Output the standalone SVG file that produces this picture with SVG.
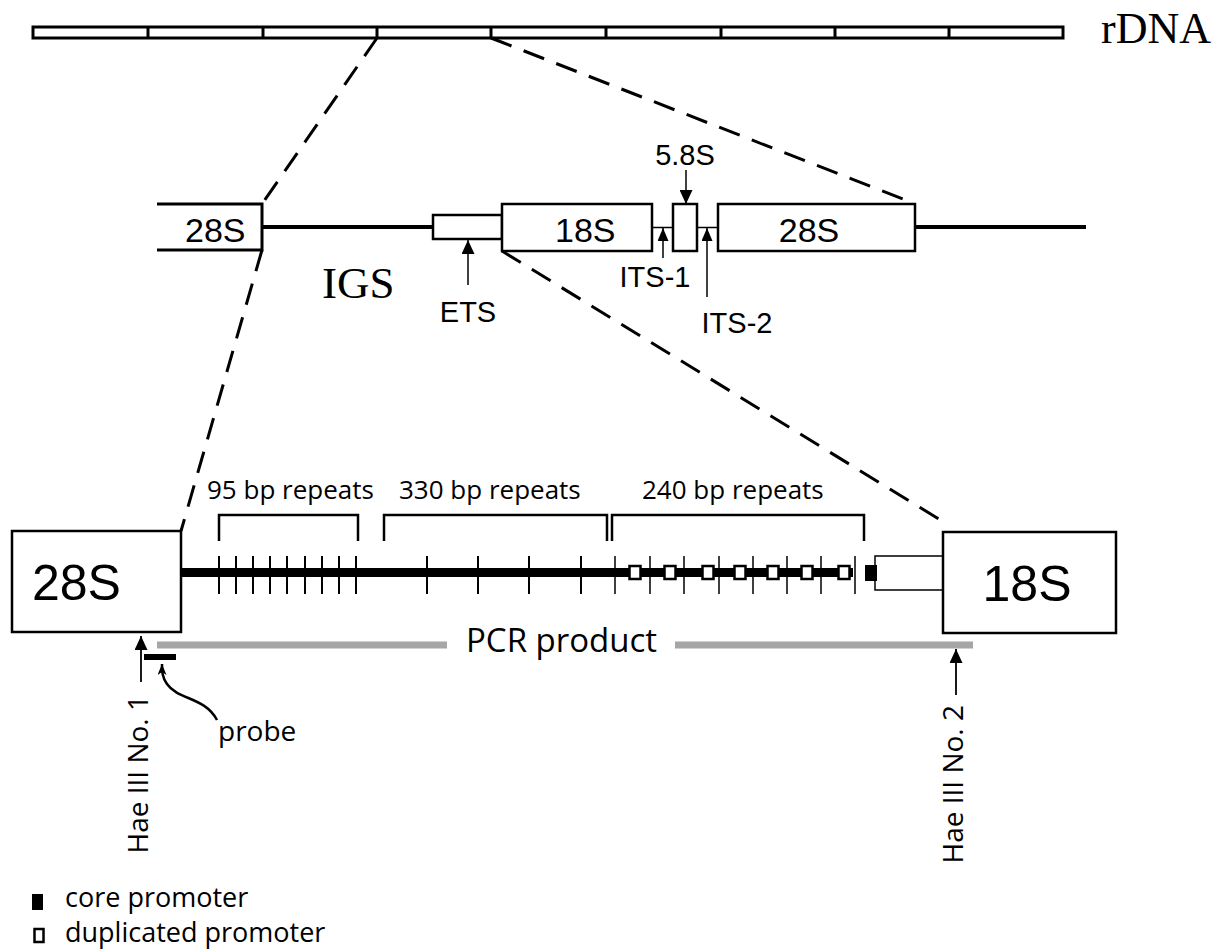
<svg xmlns="http://www.w3.org/2000/svg" width="1223" height="950" viewBox="0 0 1223 950">
<style>
.box{fill:#fff;stroke:#000;stroke-width:2.5}
.ln{fill:none;stroke:#000}
.dash{fill:none;stroke:#000;stroke-width:3;stroke-dasharray:22 13}
.arial{font-family:"Liberation Sans",Arial,sans-serif;fill:#000}
.myr{font-family:"Open Sans","Noto Sans",sans-serif;fill:#000}
.times{font-family:"Liberation Serif","Times New Roman",serif;fill:#000}
.tick{stroke:#000;stroke-width:2}
.tick2{stroke:#000;stroke-width:1.5}
.dup{fill:#fff;stroke:#000;stroke-width:2.5}
</style>
<defs>
<marker id="arr" markerUnits="userSpaceOnUse" markerWidth="14" markerHeight="13" refX="14" refY="6.5" orient="auto" viewBox="0 0 14 13"><path d="M0,0 L14,6.5 L0,13 z" fill="#000"/></marker>
<marker id="arrs" markerUnits="userSpaceOnUse" markerWidth="13" markerHeight="11" refX="13" refY="5.5" orient="auto" viewBox="0 0 13 11"><path d="M0,0 L13,5.5 L0,11 z" fill="#000"/></marker>
<marker id="arrp" markerUnits="userSpaceOnUse" markerWidth="11" markerHeight="9" refX="11" refY="4.5" orient="auto" viewBox="0 0 11 9"><path d="M0,0 L11,4.5 L0,9 L3,4.5 z" fill="#000"/></marker>
</defs>
<rect width="1223" height="950" fill="#fff"/>

<g id="rdna">
<rect x="33" y="27" width="1030" height="11" fill="#fff" stroke="#000" stroke-width="3"/>
<path class="ln" stroke-width="3" d="M148,27V38 M263,27V38 M377,27V38 M491,27V38 M606,27V38 M721,27V38 M835,27V38 M949,27V38"/>
<text class="times" x="1101" y="43" font-size="44">rDNA</text>
</g>

<g id="unit-28S-left">
<path class="ln" stroke-width="3" d="M157,204H262V250H157"/>
<text class="arial" x="185" y="241.5" font-size="34">28S</text>
</g>
<g id="igs">
<path class="ln" stroke-width="4" d="M262,227H433"/>
<text class="times" x="322" y="298" font-size="45">IGS</text>
</g>
<g id="ets">
<rect class="box" x="433" y="215" width="69" height="24"/>
<text class="arial" x="468" y="321.5" font-size="29" text-anchor="middle">ETS</text>
</g>
<g id="unit-18S">
<rect class="box" x="502" y="204" width="150" height="47"/>
<text class="arial" x="555" y="241.5" font-size="34">18S</text>
</g>
<g id="its">
<path class="ln" stroke-width="1.5" d="M652,227.5H673 M697,227.5H718"/>
<text class="arial" x="655" y="286.5" font-size="29" text-anchor="middle">ITS-1</text>
<text class="arial" x="737" y="332.5" font-size="29" text-anchor="middle">ITS-2</text>
</g>
<g id="unit-5.8S">
<rect class="box" x="673" y="204" width="24" height="47"/>
<text class="arial" x="685" y="165" font-size="29" text-anchor="middle">5.8S</text>
</g>
<g id="unit-28S-right">
<rect class="box" x="718" y="204" width="197" height="47"/>
<text class="arial" x="809" y="241.5" font-size="34" text-anchor="middle">28S</text>
<path class="ln" stroke-width="4" d="M915,227H1086"/>
</g>

<g id="igs-detail">
<path class="ln" stroke-width="9" d="M181,572.5H853"/>
<path class="tick" d="M219,556V594 M236,556V594 M253,556V594 M270,556V594 M287,556V594 M305,556V594 M322,556V594 M339,556V594 M356,556V594 M427,556V594 M478,556V594 M529,556V594 M581,556V594"/>
<path class="tick2" d="M615,556V594 M650,556V594 M684,556V594 M719,556V594 M753,556V594 M787,556V594 M821,556V594 M855,556V594"/>
<g id="dup-promoters">
<rect class="dup" x="629.5" y="566" width="11" height="13"/>
<rect class="dup" x="664.5" y="566" width="11" height="13"/>
<rect class="dup" x="702.5" y="566" width="11" height="13"/>
<rect class="dup" x="734.5" y="566" width="11" height="13"/>
<rect class="dup" x="767.5" y="566" width="11" height="13"/>
<rect class="dup" x="801.5" y="566" width="11" height="13"/>
<rect class="dup" x="838.5" y="566" width="11" height="13"/>
</g>
<rect id="core-promoter" x="865" y="565" width="12" height="16" fill="#000"/>
<path class="ln" stroke-width="1.5" d="M943,556H875V590H943"/>
</g>

<g id="brackets">
<path class="ln" stroke-width="2.5" d="M219,541V515H358V541 M384,541V515H607V541 M612,541V515H864V541"/>
<text class="myr" x="207" y="499" font-size="26">95 bp repeats</text>
<text class="myr" x="399" y="499" font-size="26">330 bp repeats</text>
<text class="myr" x="642" y="499" font-size="26">240 bp repeats</text>
</g>

<g id="box-28S">
<rect class="box" x="12" y="531" width="169" height="101"/>
<text class="arial" x="32" y="600" font-size="50">28S</text>
</g>
<g id="box-18S">
<rect class="box" x="943" y="532" width="173" height="101"/>
<text class="arial" x="1027" y="601" font-size="50" text-anchor="middle">18S</text>
</g>

<g id="pcr">
<path fill="none" stroke="#a6a6a6" stroke-width="7" d="M157,645H447 M675,645H973"/>
<text class="myr" x="466" y="652" font-size="33">PCR product</text>
</g>

<g id="probe">
<rect x="144" y="654" width="32" height="6" fill="#000"/>
<text class="myr" x="218" y="741" font-size="28">probe</text>
</g>

<g id="hae1">
<text class="myr" transform="translate(148,695) rotate(-90)" font-size="28" text-anchor="end">Hae III No. 1</text>
</g>
<g id="hae2">
<text class="myr" transform="translate(963,705) rotate(-90)" font-size="28" text-anchor="end">Hae III No. 2</text>
</g>

<g id="legend">
<rect x="32" y="894" width="11" height="16" fill="#000"/>
<text class="myr" x="65" y="907" font-size="27">core promoter</text>
<rect class="dup" x="34.5" y="929" width="9" height="13"/>
<text class="myr" x="65" y="942" font-size="27">duplicated promoter</text>
</g>

<g id="connectors">
<path class="dash" d="M377,38L262,204"/>
<path class="dash" d="M491,38L913,203"/>
<path class="dash" d="M262,250L181,531"/>
<path class="dash" d="M502,251L942,521"/>
<path class="ln" stroke-width="1.5" marker-end="url(#arr)" d="M468,285V240"/>
<path class="ln" stroke-width="1.5" marker-end="url(#arr)" d="M686,170V204"/>
<path class="ln" stroke-width="1.5" marker-end="url(#arrs)" d="M663,258V228"/>
<path class="ln" stroke-width="1.5" marker-end="url(#arrs)" d="M707,297V228"/>
<path class="ln" stroke-width="1.8" marker-end="url(#arr)" d="M141,682V636"/>
<path class="ln" stroke-width="1.8" marker-end="url(#arr)" d="M956,695V649"/>
<path class="ln" stroke-width="2.5" marker-end="url(#arrp)" d="M217,720C205,697 178,700 167,684C162,677 162,671 162,664"/>
</g>
</svg>
